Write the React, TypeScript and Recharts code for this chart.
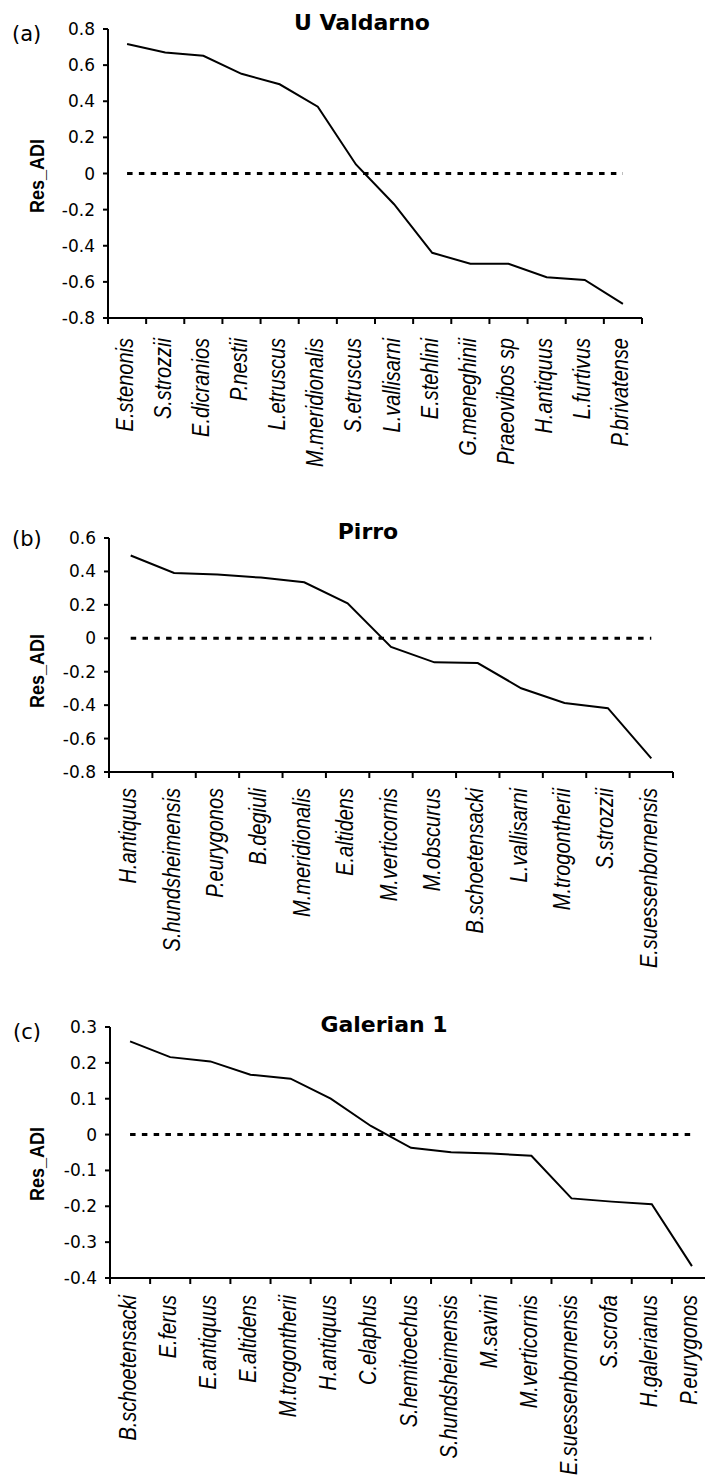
import React from 'react';
import { LineChart, Line, XAxis, YAxis, ReferenceLine } from 'recharts';

// ---- Panel (a) U Valdarno ----
const catsA = ['E.stenonis', 'S.strozzii', 'E.dicranios', 'P.nestii', 'L.etruscus', 'M.meridionalis', 'S.etruscus', 'L.vallisarni', 'E.stehlini', 'G.meneghinii', 'Praeovibos sp', 'H.antiquus', 'L.furtivus', 'P.brivatense'];
const valsA = [0.717, 0.67, 0.652, 0.552, 0.494, 0.37, 0.05, -0.17, -0.439, -0.5, -0.5, -0.574, -0.589, -0.722];
const ticksA = [-0.8, -0.6, -0.4, -0.2, 0, 0.2, 0.4, 0.6, 0.8];

// ---- Panel (b) Pirro ----
const catsB = ['H.antiquus', 'S.hundsheimensis', 'P.eurygonos', 'B.degiuli', 'M.meridionalis', 'E.altidens', 'M.verticornis', 'M.obscurus', 'B.schoetensacki', 'L.vallisarni', 'M.trogontherii', 'S.strozzii', 'E.suessenbornensis'];
const valsB = [0.495, 0.391, 0.381, 0.363, 0.335, 0.209, -0.052, -0.144, -0.148, -0.299, -0.387, -0.418, -0.718];
const ticksB = [-0.8, -0.6, -0.4, -0.2, 0, 0.2, 0.4, 0.6];

// ---- Panel (c) Galerian 1 ----
const catsC = ['B.schoetensacki', 'E.ferus', 'E.antiquus', 'E.altidens', 'M.trogontherii', 'H.antiquus', 'C.elaphus', 'S.hemitoechus', 'S.hundsheimensis', 'M.savini', 'M.verticornis', 'E.suessenbornensis', 'S.scrofa', 'H.galerianus', 'P.eurygonos'];
const valsC = [0.26, 0.216, 0.204, 0.167, 0.156, 0.1, 0.024, -0.037, -0.049, -0.053, -0.059, -0.178, -0.187, -0.194, -0.367];
const ticksC = [-0.4, -0.3, -0.2, -0.1, 0, 0.1, 0.2, 0.3];

const panelLetters = ['(a)', '(b)', '(c)'];
const panelTitles = ['U Valdarno', 'Pirro', 'Galerian 1'];
const yAxisTitle = 'Res_ADI';

const SANS = "'Liberation Sans', Arial, sans-serif";
const WIDE = "'DejaVu Sans', sans-serif";

const makeCatTick = (gap: number, bandHalf: number, count: number) => (props: any) => {
  const { x, y, payload, index } = props;
  const half = payload && typeof payload.offset === 'number' && payload.offset > 0 ? payload.offset : bandHalf;
  const axisY = y - gap;
  const tickLen = 6;
  return (
    <g>
      <line x1={x - half} x2={x - half} y1={axisY} y2={axisY + tickLen} stroke="#000" strokeWidth={2} />
      {index === count - 1 ? (
        <line x1={x + half} x2={x + half} y1={axisY} y2={axisY + tickLen} stroke="#000" strokeWidth={2} />
      ) : null}
      <text
        transform={`translate(${x},${y}) rotate(-90) scale(1,1.15)`}
        textAnchor="end"
        dy={4.8}
        fontFamily={SANS}
        fontStyle="italic"
        fontSize={20}
        fill="#000"
      >
        {payload.value}
      </text>
    </g>
  );
};

type PanelProps = {
  cats: string[];
  vals: number[];
  ticks: number[];
  top: number;
  width: number;
  height: number;
  marginTop: number;
  marginRight: number;
  yWidth: number;
  xHeight: number;
  labelGap: number;
};

const Panel = ({ cats, vals, ticks, top, width, height, marginTop, marginRight, yWidth, xHeight, labelGap }: PanelProps) => {
  const data = cats.map((c, i) => ({ name: c, v: vals[i] }));
  const plotW = width - marginRight - yWidth;
  const TickComp = makeCatTick(labelGap, plotW / cats.length / 2, cats.length);
  return (
    <div style={{ position: 'absolute', left: 0, top, width, height }}>
      <LineChart width={width} height={height} data={data} margin={{ top: marginTop, right: marginRight, bottom: 0, left: 0 }}>
        <XAxis
          dataKey="name"
          scale="band"
          interval={0}
          height={xHeight}
          tickLine={false}
          tickSize={0}
          tickMargin={labelGap}
          axisLine={{ stroke: '#000', strokeWidth: 2 }}
          tick={<TickComp />}
        />
        <YAxis
          type="number"
          domain={[ticks[0], ticks[ticks.length - 1]]}
          ticks={ticks}
          interval={0}
          width={yWidth}
          tickSize={5}
          tickMargin={8}
          axisLine={{ stroke: '#000', strokeWidth: 2 }}
          tickLine={{ stroke: '#000', strokeWidth: 2 }}
          tick={{ fill: '#000', fontSize: 17, fontFamily: WIDE }}
          tickFormatter={(v: number) => String(v)}
        />
        <ReferenceLine
          segment={[{ x: cats[0], y: 0 }, { x: cats[cats.length - 1], y: 0 }]}
          stroke="#000"
          strokeWidth={3}
          strokeDasharray="5.5 6.3"
          ifOverflow="visible"
        />
        <Line type="linear" dataKey="v" stroke="#000" strokeWidth={2} dot={false} isAnimationActive={false} />
      </LineChart>
    </div>
  );
};

const letterPos = [
  { x: 12, y: 40.5 },
  { x: 12, y: 545.5 },
  { x: 13, y: 1039 },
];
const titlePos = [
  { x: 362, y: 29.5 },
  { x: 368, y: 539 },
  { x: 384, y: 1032 },
];
const yTitlePos = [176, 671, 1164];

export default function App() {
  return (
    <div style={{ position: 'absolute', left: 0, top: 0, width: 705, height: 1478, overflow: 'hidden', background: '#fff' }}>
      <Panel cats={catsA} vals={valsA} ticks={ticksA} top={0} width={705} height={480} marginTop={29} marginRight={63} yWidth={108} xHeight={162} labelGap={20} />
      <Panel cats={catsB} vals={valsB} ticks={ticksB} top={490} width={705} height={490} marginTop={48} marginRight={32} yWidth={109} xHeight={208} labelGap={16} />
      <Panel cats={catsC} vals={valsC} ticks={ticksC} top={980} width={722} height={498} marginTop={47} marginRight={10} yWidth={110} xHeight={200} labelGap={17} />
      <svg width={705} height={1478} style={{ position: 'absolute', left: 0, top: 0, pointerEvents: 'none' }}>
        {panelLetters.map((t, i) => (
          <text key={'l' + i} x={letterPos[i].x} y={letterPos[i].y} fontFamily={WIDE} fontSize={21} fill="#000">{t}</text>
        ))}
        {panelTitles.map((t, i) => (
          <text key={'t' + i} x={titlePos[i].x} y={titlePos[i].y} textAnchor="middle" fontFamily={WIDE} fontWeight="bold" fontSize={22} fill="#000">{t}</text>
        ))}
        {yTitlePos.map((cy, i) => (
          <text key={'y' + i} transform={`translate(43.6,${cy}) rotate(-90) scale(1,1.1)`} textAnchor="middle" fontFamily={SANS} fontWeight="bold" fontSize={18} fill="#000">{yAxisTitle}</text>
        ))}
      </svg>
    </div>
  );
}
